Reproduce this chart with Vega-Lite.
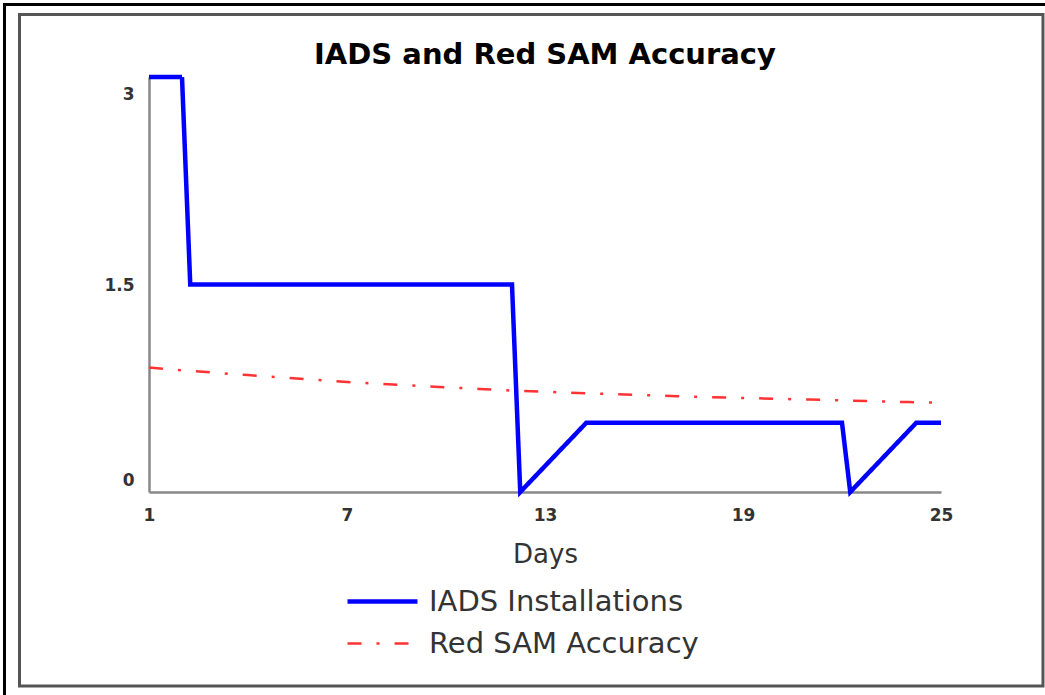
{
  "$schema": "https://vega.github.io/schema/vega-lite/v6.json",
  "width": 792,
  "height": 415,
  "autosize": "none",
  "padding": {"left": 149, "top": 77, "right": 104, "bottom": 203},
  "background": "white",
  "config": {
    "view": {"stroke": null},
    "font": "DejaVu Sans",
    "axis": {
      "grid": false,
      "ticks": false,
      "domainColor": "#888888",
      "domainWidth": 2.5,
      "labelFont": "DejaVu Sans",
      "labelFontSize": 17,
      "labelFontWeight": "bold",
      "labelColor": "#333333",
      "labelPadding": 15,
      "titleFont": "DejaVu Sans",
      "titleFontSize": 26,
      "titleFontWeight": "normal",
      "titleColor": "#333333"
    },
    "axisX": {"labelFlush": false, "titlePadding": 18},
    "axisY": {"labelFlush": false},
    "legend": {
      "orient": "none",
      "legendX": 219,
      "legendY": 510,
      "title": null,
      "padding": 0,
      "symbolType": "M-3,0H3",
      "symbolSize": 544,
      "labelFont": "DejaVu Sans",
      "labelFontSize": 29,
      "labelColor": "#333333",
      "labelOffset": 32,
      "labelLimit": 0,
      "rowPadding": 12
    }
  },
  "title": {
    "text": "IADS and Red SAM Accuracy",
    "font": "DejaVu Sans",
    "fontSize": 29,
    "fontWeight": "bold",
    "color": "#000000",
    "anchor": "middle",
    "frame": "group",
    "offset": -67
  },
  "layer": [
    {
      "data": {
        "values": [
          {"series": "IADS Installations", "day": 1, "value": 3},
          {"series": "IADS Installations", "day": 2, "value": 3},
          {"series": "IADS Installations", "day": 2.25, "value": 1.5},
          {"series": "IADS Installations", "day": 12, "value": 1.5},
          {"series": "IADS Installations", "day": 12.25, "value": 0},
          {"series": "IADS Installations", "day": 14.25, "value": 0.5},
          {"series": "IADS Installations", "day": 22, "value": 0.5},
          {"series": "IADS Installations", "day": 22.25, "value": 0},
          {"series": "IADS Installations", "day": 24.25, "value": 0.5},
          {"series": "IADS Installations", "day": 25, "value": 0.5},
          {"series": "Red SAM Accuracy", "day": 1, "value": 0.9},
          {"series": "Red SAM Accuracy", "day": 2, "value": 0.88},
          {"series": "Red SAM Accuracy", "day": 3, "value": 0.862},
          {"series": "Red SAM Accuracy", "day": 4, "value": 0.845},
          {"series": "Red SAM Accuracy", "day": 5, "value": 0.828},
          {"series": "Red SAM Accuracy", "day": 6, "value": 0.811},
          {"series": "Red SAM Accuracy", "day": 7, "value": 0.795},
          {"series": "Red SAM Accuracy", "day": 8, "value": 0.782},
          {"series": "Red SAM Accuracy", "day": 9, "value": 0.769},
          {"series": "Red SAM Accuracy", "day": 10, "value": 0.757},
          {"series": "Red SAM Accuracy", "day": 11, "value": 0.745},
          {"series": "Red SAM Accuracy", "day": 12, "value": 0.733},
          {"series": "Red SAM Accuracy", "day": 13, "value": 0.724},
          {"series": "Red SAM Accuracy", "day": 14, "value": 0.716},
          {"series": "Red SAM Accuracy", "day": 15, "value": 0.708},
          {"series": "Red SAM Accuracy", "day": 16, "value": 0.7},
          {"series": "Red SAM Accuracy", "day": 17, "value": 0.693},
          {"series": "Red SAM Accuracy", "day": 18, "value": 0.686},
          {"series": "Red SAM Accuracy", "day": 19, "value": 0.68},
          {"series": "Red SAM Accuracy", "day": 20, "value": 0.674},
          {"series": "Red SAM Accuracy", "day": 21, "value": 0.668},
          {"series": "Red SAM Accuracy", "day": 22, "value": 0.662},
          {"series": "Red SAM Accuracy", "day": 23, "value": 0.656},
          {"series": "Red SAM Accuracy", "day": 24, "value": 0.65},
          {"series": "Red SAM Accuracy", "day": 25, "value": 0.645}
        ]
      },
      "mark": {"type": "line", "clip": false},
      "encoding": {
        "x": {
          "field": "day",
          "type": "quantitative",
          "scale": {"domain": [1, 25], "nice": false, "zero": false},
          "axis": {"title": "Days", "values": [1, 7, 13, 19, 25], "format": "~g"}
        },
        "y": {
          "field": "value",
          "type": "quantitative",
          "scale": {"domain": [0, 3], "nice": false},
          "axis": {
            "title": null,
            "values": [0, 1.5, 3],
            "format": "~g",
            "labelOffset": {
              "condition": [
                {"test": "datum.value == 3", "value": 17},
                {"test": "datum.value == 0", "value": -12}
              ],
              "value": 1
            }
          }
        },
        "color": {
          "field": "series",
          "type": "nominal",
          "scale": {"domain": ["IADS Installations", "Red SAM Accuracy"], "range": ["#0000ff", "#ff3333"]}
        },
        "strokeDash": {
          "field": "series",
          "type": "nominal",
          "scale": {"domain": ["IADS Installations", "Red SAM Accuracy"], "range": [[1, 0], [14, 15, 3, 15]]}
        },
        "strokeWidth": {
          "field": "series",
          "type": "nominal",
          "scale": {"domain": ["IADS Installations", "Red SAM Accuracy"], "range": [4.5, 2.5]}
        }
      }
    },
    {
      "data": {"values": [{"frame": "outer"}]},
      "mark": {"type": "rect", "filled": false, "stroke": "#000000", "strokeWidth": 3, "clip": false},
      "encoding": {
        "x": {"datum": -3.379, "type": "quantitative", "scale": {"domain": [1, 25], "nice": false, "zero": false}},
        "x2": {"datum": 28.6},
        "y": {"datum": 3.524, "type": "quantitative", "scale": {"domain": [0, 3], "nice": false}},
        "y2": {"datum": -1.576}
      }
    },
    {
      "data": {"values": [{"frame": "inner"}]},
      "mark": {"type": "rect", "filled": false, "stroke": "#555555", "strokeWidth": 3, "clip": false},
      "encoding": {
        "x": {"datum": -2.924, "type": "quantitative", "scale": {"domain": [1, 25], "nice": false, "zero": false}},
        "x2": {"datum": 28.09},
        "y": {"datum": 3.452, "type": "quantitative", "scale": {"domain": [0, 3], "nice": false}},
        "y2": {"datum": -1.4024}
      }
    }
  ]
}
